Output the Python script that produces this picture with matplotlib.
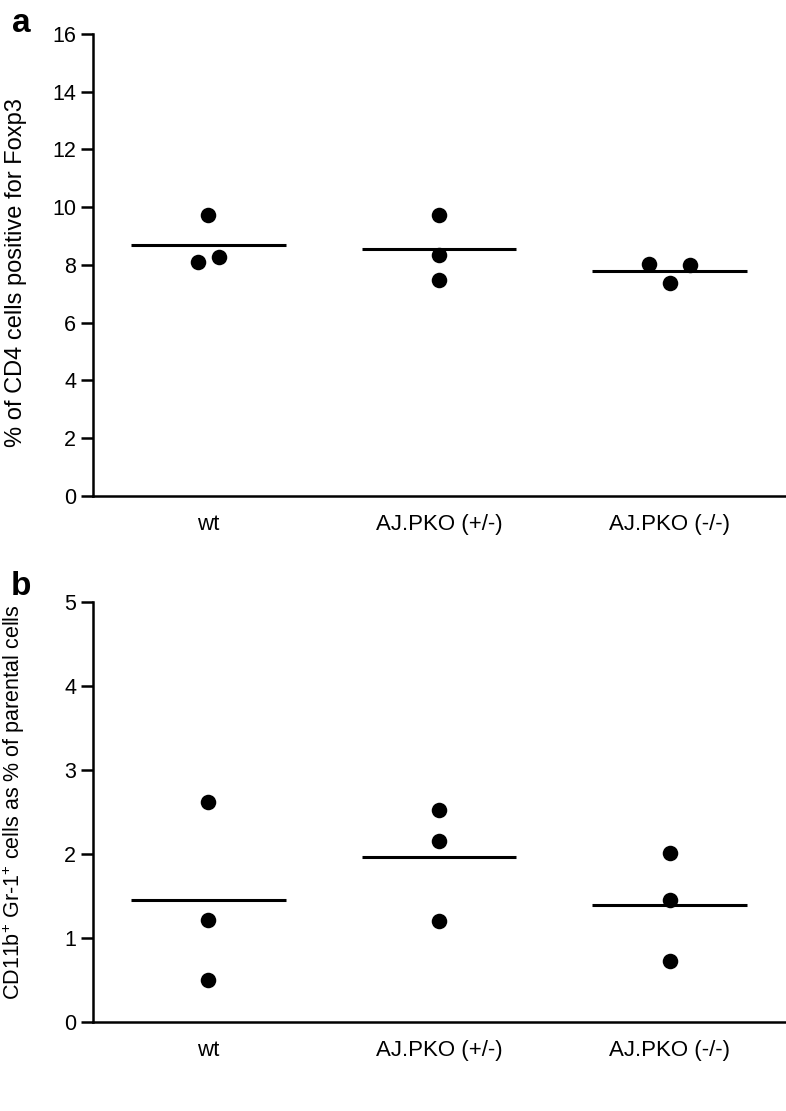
import matplotlib.pyplot as plt
import numpy as np

plt.rcParams['font.family'] = ['Liberation Sans', 'DejaVu Sans']
plt.rcParams['mathtext.fontset'] = 'custom'
plt.rcParams['mathtext.rm'] = 'Liberation Sans'
plt.rcParams['mathtext.it'] = 'Liberation Sans'

groups = ['wt', 'AJ.PKO (+/-)', 'AJ.PKO (-/-)']

# panel a: % Foxp3+ of CD4 cells
foxp3_points = [[9.73, 8.10, 8.28], [9.73, 8.35, 7.48], [8.02, 8.00, 7.37]]
foxp3_means = [8.69, 8.54, 7.79]
foxp3_jitter = [[0.0, -0.045, 0.045], [0.0, 0.0, 0.0], [-0.09, 0.09, 0.0]]

# panel b: CD11b+ Gr-1+ cells
mdsc_points = [[2.62, 1.22, 0.50], [2.52, 2.16, 1.20], [2.01, 1.45, 0.73]]
mdsc_means = [1.45, 1.96, 1.39]
mdsc_jitter = [[0.0, 0.0, 0.0], [0.0, 0.0, 0.0], [0.0, 0.0, 0.0]]


def dot_panel(ax, points, means, jitter, ymax, yticks, ylabel, ylabel_size, ylabel_y,
              letter, letter_dy):
    """Draw one dot plot with mean bars"""
    for i, (pts, m, jit) in enumerate(zip(points, means, jitter)):
        x = i + 1
        ax.hlines(m, x - 0.335, x + 0.335, color='black', lw=2.2, zorder=2)
        ax.scatter(x + np.array(jit), pts, s=125, color='black', zorder=3, linewidths=0)
    ax.set_xlim(0.5, 3.5)
    ax.set_ylim(0, ymax)
    ax.set_yticks(yticks)
    ax.set_xticks([1, 2, 3])
    ax.set_xticklabels(groups, fontsize=16)
    ax.tick_params(axis='x', length=0, pad=13)
    ax.tick_params(axis='y', direction='out', length=9, width=1.8, labelsize=15.5, pad=3)
    for s in ['top', 'right']:
        ax.spines[s].set_visible(False)
    for s in ['left', 'bottom']:
        ax.spines[s].set_linewidth(1.8)
    ax.set_ylabel(ylabel, fontsize=ylabel_size)
    ax.yaxis.set_label_coords(-0.096, ylabel_y)
    ax.text(-0.104, 1 + letter_dy, letter, transform=ax.transAxes, fontsize=24,
            fontweight='bold', ha='center', va='baseline')


fig = plt.figure(figsize=(7.86, 11.11), dpi=100)
ax1 = fig.add_axes([0.1183, 0.5536, 0.8804, 0.4158])
ax2 = fig.add_axes([0.1183, 0.0798, 0.8804, 0.3786])

dot_panel(ax1, foxp3_points, foxp3_means, foxp3_jitter, 16, range(0, 17, 2),
          '% of CD4 cells positive for Foxp3', 17, 0.483, 'a', 0.004)
dot_panel(ax2, mdsc_points, mdsc_means, mdsc_jitter, 5, range(0, 6),
          r'CD11b$^{+}$ Gr-1$^{+}$ cells as % of parental cells', 15.5, 0.524, 'b', 0.016)

plt.savefig('out.png', dpi=100)
